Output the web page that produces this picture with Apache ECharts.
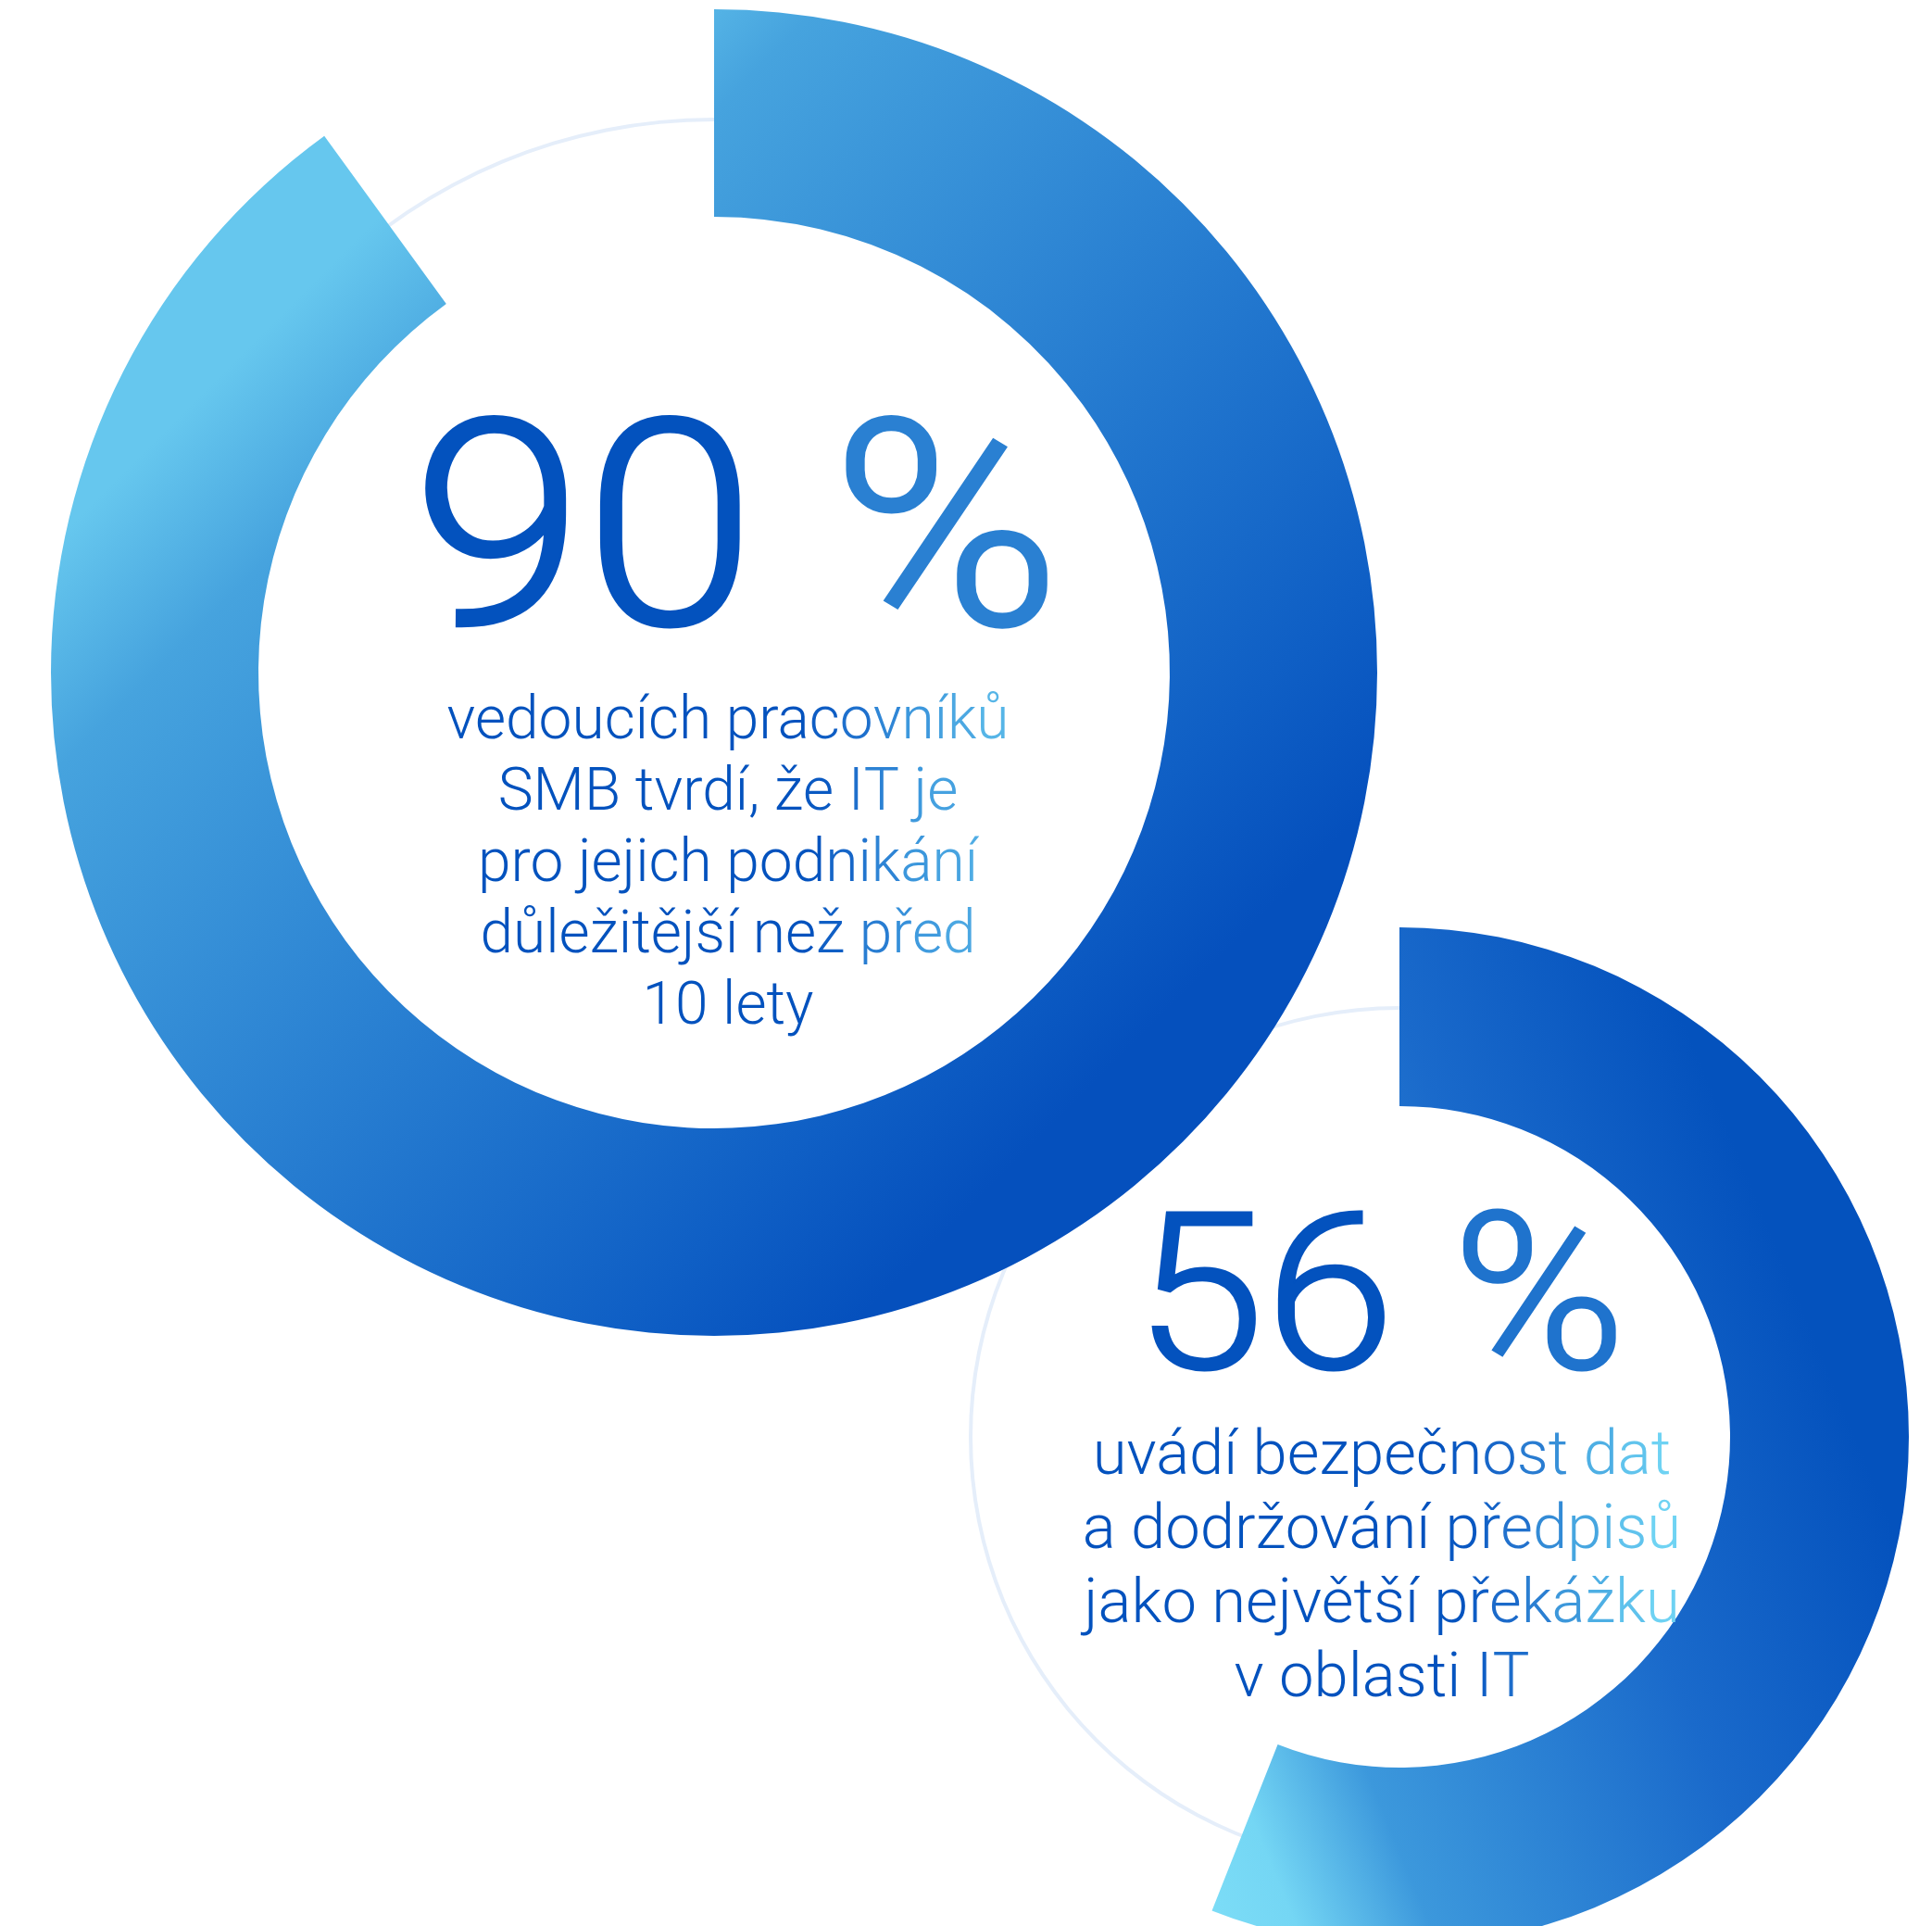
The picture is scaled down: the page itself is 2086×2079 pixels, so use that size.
<!DOCTYPE html>
<html>
<head>
<meta charset="utf-8">
<script src="https://cdn.jsdelivr.net/npm/echarts@6/dist/echarts.min.js"></script>
<style>
html,body{margin:0;padding:0;background:#ffffff;}
#chart{width:2086px;height:2079px;}
</style>
</head>
<body>
<div id="chart"></div>
<script>
// ---- data ----
const statValues = [90, 56];
const statNumbers = ['90', '56'];
const statTexts = [
  ['vedoucích pracovníků', 'SMB tvrdí, že IT je', 'pro jejich podnikání', 'důležitější než před', '10 lety'],
  ['uvádí bezpečnost dat', 'a dodržování předpisů', 'jako největší překážku', 'v oblasti IT']
];

// ---- layout / style ----
const rings = [
  {center: [771, 726], inner: 492, outer: 716, thin: 597,
   grad: [344, 299, 1198, 1153],
   stops: [[0, '#66c7ee'], [0.146, '#46a3de'], [0.5, '#2a81d2'], [0.854, '#0f5fc5'], [1, '#0550bd']],
   numX: 795, numY: 596, numSize: 310, numStroke: 4, pctColor: '#2a80d2',
   txtX: 786, txtY: 742, txtSize: 64, lineH: 77,
   tstops: [[870, '#0352be'], [920, '#1b6bcb'], [980, '#3994db'], [1040, '#4ca8e2'], [1090, '#5bbbea']]},
  {center: [1511, 1551], inner: 357, outer: 550, thin: 463,
   grad: [1094, 1724, 1932, 1378],
   stops: [[0, '#82e2f9'], [0.162, '#74d6f4'], [0.31, '#3c98dc'], [0.69, '#1a6acb'], [0.96, '#0755bf'], [1, '#0452bd']],
   numX: 1490, numY: 1418, numSize: 235, numStroke: 3, pctColor: '#1f73cd',
   txtX: 1492, txtY: 1534, txtSize: 67, lineH: 80,
   tstops: [[1560, '#0352be'], [1600, '#0f5ec5'], [1640, '#2171cd'], [1710, '#45a4df'], [1780, '#68cdf1'], [1810, '#74d7f5']]}
];

// horizontal colour ramp for body text, sampled per character
const measureCtx = document.createElement('canvas').getContext('2d');
function hexToRgb(h) { return [parseInt(h.substr(1, 2), 16), parseInt(h.substr(3, 2), 16), parseInt(h.substr(5, 2), 16)]; }
function rgbToHex(c) { return '#' + c.map(v => Math.round(v).toString(16).padStart(2, '0')).join(''); }
function colorAt(x, stops) {
  if (x <= stops[0][0]) return stops[0][1];
  if (x >= stops[stops.length - 1][0]) return stops[stops.length - 1][1];
  for (let k = 0; k < stops.length - 1; k++) {
    const a = stops[k], b = stops[k + 1];
    if (x >= a[0] && x <= b[0]) {
      const t = (x - a[0]) / (b[0] - a[0]);
      const ca = hexToRgb(a[1]), cb = hexToRgb(b[1]);
      return rgbToHex(ca.map((v, j) => v + (cb[j] - v) * t));
    }
  }
  return stops[0][1];
}
function buildRich(lines, size, lineH, cx, stops) {
  const font = '300 ' + size + 'px Roboto';
  measureCtx.font = font;
  const rich = {};
  const out = [];
  lines.forEach(line => {
    const w = measureCtx.measureText(line).width;
    let x = cx - w / 2;
    const runs = [];
    for (const ch of line) {
      const cw = measureCtx.measureText(ch).width;
      const col = colorAt(x + cw / 2, stops);
      const key = 'c' + col.slice(1);
      if (!rich[key]) rich[key] = {fill: col, fontFamily: 'Roboto', fontWeight: 300, fontSize: size, lineHeight: lineH};
      if (runs.length && runs[runs.length - 1].key === key) runs[runs.length - 1].s += ch;
      else runs.push({key: key, s: ch});
      x += cw;
    }
    out.push(runs.map(r => '{' + r.key + '|' + r.s + '}').join(''));
  });
  return {text: out.join('\n'), rich: rich};
}

const chart = echarts.init(document.getElementById('chart'), null, {renderer: 'canvas'});

const series = [];
const graphic = [];

rings.forEach((r) => {
  series.push({
    type: 'pie', silent: true, animation: false, z: 1,
    center: r.center, radius: [r.thin - 2, r.thin + 2],
    label: {show: false}, labelLine: {show: false}, emphasis: {disabled: true},
    itemStyle: {color: '#e5eefa', borderWidth: 0},
    data: [{value: 1}]
  });
});

rings.forEach((r, i) => {
  const v = statValues[i];
  series.push({
    type: 'pie', silent: true, animation: false, z: 2,
    center: r.center, radius: [r.inner, r.outer],
    startAngle: 90, clockwise: true,
    label: {show: false}, labelLine: {show: false}, emphasis: {disabled: true},
    itemStyle: {borderWidth: 0},
    data: [
      {value: v, itemStyle: {color: new echarts.graphic.LinearGradient(r.grad[0], r.grad[1], r.grad[2], r.grad[3],
        r.stops.map(s => ({offset: s[0], color: s[1]})), true)}},
      {value: 100 - v, itemStyle: {color: 'rgba(0,0,0,0)'}}
    ]
  });

  const nl = Math.round(r.numSize * 0.75);
  const numBase = {fontFamily: 'Roboto', fontWeight: 300, fontSize: r.numSize, lineHeight: nl,
                   lineWidth: r.numStroke, lineJoin: 'round'};
  graphic.push({
    type: 'text', x: r.numX, y: r.numY, z: 10, scaleX: 1.08,
    style: {
      text: '{n|' + statNumbers[i] + ' }{p|%}',
      align: 'center', verticalAlign: 'middle',
      fontFamily: 'Roboto', fontWeight: 300, fontSize: r.numSize, lineHeight: nl,
      fill: '#0352be',
      rich: {
        n: Object.assign({fill: '#0352be', stroke: '#0352be'}, numBase),
        p: Object.assign({fill: r.pctColor, stroke: r.pctColor}, numBase)
      }
    }
  });

  const body = buildRich(statTexts[i], r.txtSize, r.lineH, r.txtX, r.tstops);
  graphic.push({
    type: 'text', x: r.txtX, y: r.txtY, z: 10,
    style: {
      text: body.text,
      rich: body.rich,
      align: 'center', verticalAlign: 'top',
      fontFamily: 'Roboto', fontWeight: 300, fontSize: r.txtSize, lineHeight: r.lineH,
      fill: '#0352be'
    }
  });
});

chart.setOption({
  backgroundColor: '#ffffff',
  animation: false,
  series: series,
  graphic: graphic
});
</script>
</body>
</html>
